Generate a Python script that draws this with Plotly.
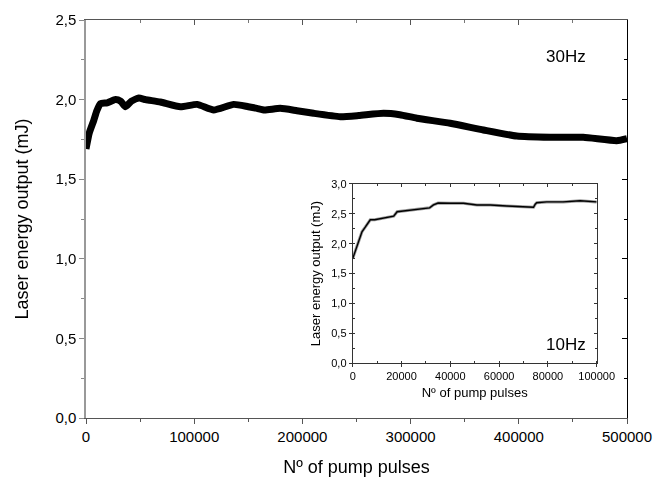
import plotly.graph_objects as go

# Main series (30 Hz)
main_x = [0, 3000, 7200, 10000, 13400, 19600, 27200, 32000, 36500, 42000, 48800, 55000,
          68800, 87300, 102700, 118000, 136500, 150000, 158000, 165000, 179600, 195000,
          210300, 235000, 252000, 275000, 290000, 305800, 336600, 367300, 398100, 428900,
          459600, 490400, 500000]
main_y = [1.69, 1.79, 1.87, 1.93, 1.975, 1.98, 2.0, 1.99, 1.955, 1.99, 2.01, 2.0,
          1.985, 1.955, 1.97, 1.935, 1.97, 1.955, 1.945, 1.935, 1.945, 1.93,
          1.914, 1.893, 1.9, 1.914, 1.905, 1.883, 1.851, 1.809, 1.771, 1.763,
          1.763, 1.742, 1.755]

# Inset series (10 Hz)
inset_x = [0, 1100, 2500, 3800, 5200, 7200, 9000, 11300, 15400, 16800, 18200, 23600, 29100,
           31500, 33100, 35000, 40000, 45400, 50900, 56400, 63200, 70000, 74100, 74800,
           75400, 79500, 86300, 93200, 100000]
inset_y = [1.75, 1.89, 2.06, 2.2, 2.28, 2.40, 2.40, 2.42, 2.45, 2.46, 2.535, 2.564, 2.59,
           2.60, 2.65, 2.68, 2.676, 2.676, 2.648, 2.648, 2.63, 2.62, 2.61, 2.66,
           2.686, 2.70, 2.70, 2.72, 2.70]

main_xrange = [0, 500000]
main_yrange = [0, 2.5]
inset_xrange = [0, 100000]
inset_yrange = [0, 3.0]

FONT = "Liberation Sans, Arial, sans-serif"

fig = go.Figure()
fig.add_trace(go.Scatter(x=main_x, y=main_y, mode="lines",
                         line=dict(color="black", width=7, shape="spline", smoothing=0.5),
                         xaxis="x", yaxis="y", showlegend=False, hoverinfo="skip"))
# invisible helpers for mirrored (inside-tick) axes
fig.add_trace(go.Scatter(x=main_xrange, y=main_yrange, mode="markers", opacity=0,
                         xaxis="x2", yaxis="y2", showlegend=False, hoverinfo="skip"))
fig.add_trace(go.Scatter(x=inset_x, y=inset_y, mode="lines",
                         line=dict(color="#999", width=3), xaxis="x3", yaxis="y3",
                         showlegend=False, hoverinfo="skip"))
fig.add_trace(go.Scatter(x=inset_x, y=inset_y, mode="lines",
                         line=dict(color="black", width=1.4), xaxis="x3", yaxis="y3",
                         showlegend=False, hoverinfo="skip"))
fig.add_trace(go.Scatter(x=inset_xrange, y=inset_yrange, mode="markers", opacity=0,
                         xaxis="x4", yaxis="y4", showlegend=False, hoverinfo="skip"))

tickfont_main = dict(family=FONT, size=15, color="black")
tickfont_inset = dict(family=FONT, size=11, color="black")

inset_xdom = [0.493, 0.944]
inset_ydom = [0.138, 0.588]

fig.update_layout(
    width=653, height=485,
    margin=dict(l=86, r=26, t=20, b=67, autoexpand=False),
    paper_bgcolor="white", plot_bgcolor="rgba(0,0,0,0)",
    separators=",.",
    font=dict(family=FONT, color="black"),
    xaxis=dict(domain=[0, 1], range=main_xrange, anchor="y", dtick=100000, tick0=0,
               ticks="outside", ticklen=5, tickcolor="#555", tickwidth=1,
               minor=dict(dtick=50000, ticks="outside", ticklen=3, tickcolor="#555"),
               showline=True, linecolor="#555", linewidth=1.3, showgrid=False, zeroline=False,
               tickfont=tickfont_main, tickformat="d",
               title=dict(text="Nº of pump pulses", font=dict(family=FONT, size=18), standoff=16)),
    yaxis=dict(domain=[0, 1], range=main_yrange, anchor="x", dtick=0.5, tick0=0,
               ticks="outside", ticklen=5, tickcolor="#888", tickwidth=1,
               minor=dict(dtick=0.25, ticks="outside", ticklen=3, tickcolor="#888"),
               showline=True, linecolor="#999", linewidth=1.5, showgrid=False, zeroline=False,
               tickfont=tickfont_main, tickformat=".1f",
               title=dict(text="Laser energy output (mJ)", font=dict(family=FONT, size=18), standoff=22)),
    xaxis2=dict(overlaying="x", side="top", anchor="y", range=main_xrange, dtick=100000, tick0=0,
                ticks="inside", ticklen=5, tickcolor="#555",
                minor=dict(dtick=50000, ticks="inside", ticklen=3, tickcolor="#777"),
                showline=True, linecolor="#555", linewidth=1.3, showgrid=False, zeroline=False,
                showticklabels=False),
    yaxis2=dict(overlaying="y", side="right", anchor="x", range=main_yrange, dtick=0.5, tick0=0,
                ticks="inside", ticklen=5, tickcolor="black",
                minor=dict(dtick=0.25, ticks="inside", ticklen=3, tickcolor="black"),
                showline=True, linecolor="black", linewidth=1.3, showgrid=False, zeroline=False,
                showticklabels=False),
    xaxis3=dict(domain=inset_xdom, range=inset_xrange, anchor="y3", dtick=20000, tick0=0,
                ticks="outside", ticklen=3, tickcolor="#333",
                minor=dict(dtick=10000, ticks="inside", ticklen=2, tickcolor="#333"),
                showline=True, linecolor="#333", linewidth=1, showgrid=False, zeroline=False,
                tickfont=tickfont_inset, tickformat="d",
                title=dict(text="Nº of pump pulses", font=dict(family=FONT, size=13), standoff=6)),
    yaxis3=dict(domain=inset_ydom, range=inset_yrange, anchor="x3", dtick=0.5, tick0=0,
                ticks="outside", ticklen=3, tickcolor="#333",
                minor=dict(dtick=0.25, ticks="inside", ticklen=2, tickcolor="#333"),
                showline=True, linecolor="#333", linewidth=1, showgrid=False, zeroline=False,
                tickfont=tickfont_inset, tickformat=".1f",
                title=dict(text="Laser energy output (mJ)", font=dict(family=FONT, size=13), standoff=7)),
    xaxis4=dict(domain=inset_xdom, overlaying="x3", side="top", anchor="y3", range=inset_xrange,
                dtick=20000, tick0=0, ticks="inside", ticklen=3, tickcolor="#333",
                minor=dict(dtick=10000, ticks="inside", ticklen=2, tickcolor="#333"),
                showline=True, linecolor="#333", linewidth=1, showgrid=False, zeroline=False,
                showticklabels=False),
    yaxis4=dict(domain=inset_ydom, overlaying="y3", side="right", anchor="x3", range=inset_yrange,
                dtick=0.5, tick0=0, ticks="inside", ticklen=3, tickcolor="#333",
                minor=dict(dtick=0.25, ticks="inside", ticklen=2, tickcolor="#333"),
                showline=True, linecolor="#333", linewidth=1, showgrid=False, zeroline=False,
                showticklabels=False),
    annotations=[
        dict(text="30Hz", x=443700, y=2.268, xref="x", yref="y", showarrow=False,
             font=dict(family=FONT, size=17, color="black")),
        dict(text="10Hz", x=87500, y=0.314, xref="x3", yref="y3", showarrow=False,
             font=dict(family=FONT, size=17, color="black")),
    ],
)

fig.write_html("out.html", config={"displayModeBar": False},
               post_script="document.body.style.margin='0';document.body.style.overflow='hidden';")
